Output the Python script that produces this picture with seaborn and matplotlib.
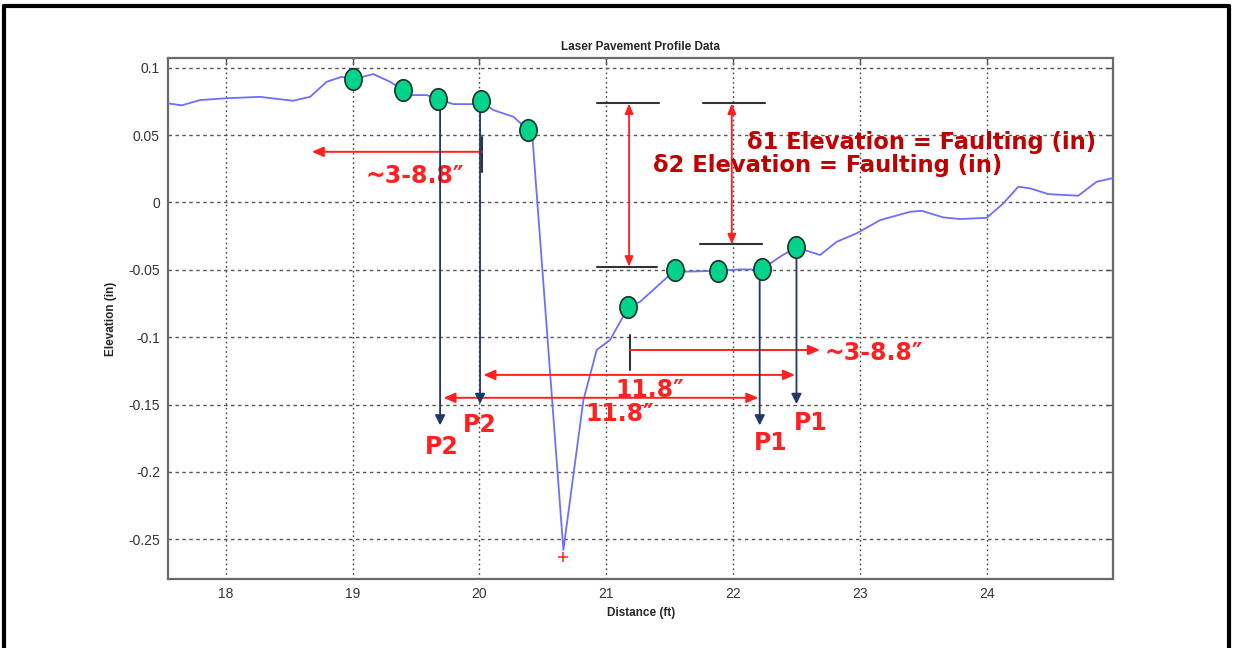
"""
Laser pavement profile with faulting measurement annotations.
"""

import matplotlib.pyplot as plt
import numpy as np
import pandas as pd
import seaborn as sns
from matplotlib.lines import Line2D
from matplotlib.markers import MarkerStyle
from matplotlib.path import Path
from matplotlib.transforms import Affine2D

# ----------------------------
# Profile data
# ----------------------------
distance_ft = [
    17.547, 17.653, 17.797, 17.994, 18.27, 18.53, 18.665, 18.796, 18.915,
    19.0, 19.164, 19.295, 19.40, 19.453, 19.585, 19.676, 19.795, 19.952,
    20.01, 20.11, 20.268, 20.386, 20.42, 20.662, 20.82, 20.925, 21.03,
    21.174, 21.267, 21.543, 21.608, 21.884, 22.055, 22.226, 22.37, 22.497,
    22.686, 22.817, 22.975, 23.159, 23.397, 23.488, 23.658, 23.79, 24.0,
    24.131, 24.249, 24.341, 24.486, 24.722, 24.867, 24.996,
]
elevation_in = [
    0.0735, 0.0721, 0.0760, 0.0773, 0.0784, 0.0755, 0.0784, 0.0896, 0.0933,
    0.0914, 0.0953, 0.0896, 0.0834, 0.0797, 0.0797, 0.0765, 0.0730, 0.0730,
    0.0755, 0.0686, 0.0636, 0.0537, 0.0463, -0.258, -0.1467, -0.1095, -0.102,
    -0.0779, -0.0737, -0.0502, -0.0514, -0.0507, -0.0497, -0.0497, -0.0403, -0.0333,
    -0.039, -0.0292, -0.0229, -0.0131, -0.0069, -0.0062, -0.0111, -0.0123, -0.0114,
    -0.0007, 0.0117, 0.0105, 0.0062, 0.0050, 0.0154, 0.0181,
]

# sensor readings (green dots)
sensor_x = [19.0, 19.40, 19.676, 20.01, 20.386, 21.174, 21.543, 21.884, 22.226, 22.497]
sensor_y = [0.0914, 0.0834, 0.0765, 0.0755, 0.0537, -0.0779, -0.0502, -0.0507, -0.0497, -0.0333]

# deepest point
min_x = [20.662]
min_y = [-0.263]

x_ticks = [18, 19, 20, 21, 22, 23, 24]
y_ticks = [0.1, 0.05, 0, -0.05, -0.1, -0.15, -0.2, -0.25]
y_tick_labels = ["0.1", "0.05", "0", "-0.05", "-0.1", "-0.15", "-0.2", "-0.25"]

# P1 / P2 drop lines
drop_x = [19.69, 20.005, 22.21, 22.50]
drop_top = [0.0765, 0.0755, -0.0497, -0.0333]
drop_bottom = [-0.1655, -0.1496, -0.1655, -0.1496]
p_labels = ["P2", "P2", "P1", "P1"]
p_label_x = [19.705, 20.005, 22.30, 22.615]
p_label_y = [-0.1815, -0.165, -0.1786, -0.164]

# faulting reference bars
bar_left = [20.93, 21.76, 20.93, 21.74]
bar_right = [21.42, 22.25, 21.40, 22.23]
bar_y = [0.0735, 0.0735, -0.0477, -0.0311]
delta_x = [21.18, 21.99]
delta_top = [0.0735, 0.0735]
delta_bottom = [-0.0477, -0.0311]

profile = pd.DataFrame({"Distance (ft)": distance_ft, "Elevation (in)": elevation_in})
sensors = pd.DataFrame({"x": sensor_x, "y": sensor_y})

sns.set_style("white")
plt.rcParams["font.family"] = ["Liberation Sans", "DejaVu Sans"]

fig = plt.figure(figsize=(12.33, 6.48), dpi=100)
ax = fig.add_axes([0.1365, 0.1065, 0.7664, 0.8035])

# ----------------------------
# Profile + sensors
# ----------------------------
sns.lineplot(
    data=profile, x="Distance (ft)", y="Elevation (in)",
    sort=False, estimator=None, color="#6e6eff", linewidth=1.3, ax=ax, zorder=3,
)
ellipse = Path.unit_circle().transformed(Affine2D().scale(0.8, 1.0))
sns.scatterplot(
    data=sensors, x="x", y="y", marker=MarkerStyle(ellipse), s=240,
    color="#00d48c", edgecolor="#1c3325", linewidth=1.2, ax=ax, zorder=5,
)
ax.plot(min_x, min_y, "+", color="#ff3030", markersize=7, mew=1.2, zorder=4)

# ----------------------------
# Axes styling (MATLAB look)
# ----------------------------
ax.set_xlim(17.547, 24.998)
ax.set_ylim(-0.2795, 0.107)
ax.set_xticks(x_ticks)
ax.set_xticklabels([str(t) for t in x_ticks])
ax.set_yticks(y_ticks)
ax.set_yticklabels(y_tick_labels)
ax.tick_params(direction="in", top=True, right=True, length=5, width=1,
               color="#555555", labelsize=10, labelcolor="#333333", pad=6)
ax.xaxis.grid(True, linestyle=(0, (1.2, 2.2)), color="#444444", linewidth=1.0)
ax.yaxis.grid(True, linestyle=(0, (2.5, 2.5)), color="#555555", linewidth=1.0)
ax.set_axisbelow(True)
for s in ax.spines.values():
    s.set_color("#6a6a6a")
    s.set_linewidth(1.6)

ax.set_title("Laser Pavement Profile Data", fontsize=8.5, fontweight="bold", pad=6)
ax.set_xlabel("Distance (ft)", fontsize=8.5, fontweight="bold", labelpad=4)
ax.set_ylabel("Elevation (in)", fontsize=8.5, fontweight="bold", labelpad=8)

# ----------------------------
# Annotations
# ----------------------------
navy = "#1f3864"
red = "#ff2020"
dark_red = "#c00000"
bold_font = ["DejaVu Sans"]

for x, y0, y1 in zip(drop_x, drop_top, drop_bottom):
    ax.annotate("", xy=(x, y1), xytext=(x, y0),
                arrowprops=dict(arrowstyle="-|>,head_length=0.6,head_width=0.3",
                                color=navy, lw=1.3, shrinkA=0, shrinkB=0),
                zorder=4)
for lbl, x, y in zip(p_labels, p_label_x, p_label_y):
    ax.text(x, y, lbl, color=red, fontsize=17, fontweight="bold",
            family=bold_font, ha="center", va="center")

for x0, x1, y in zip(bar_left, bar_right, bar_y):
    ax.plot([x0, x1], [y, y], color="#333333", lw=1.5, zorder=4)
for x, y0, y1 in zip(delta_x, delta_top, delta_bottom):
    ax.annotate("", xy=(x, y0), xytext=(x, y1),
                arrowprops=dict(arrowstyle="<|-|>,head_length=0.6,head_width=0.25",
                                color=red, lw=1.3, shrinkA=0, shrinkB=0))

# one-sided ~3-8.8" spans
ax.plot([20.018, 20.018], [0.0488, 0.0228], color="#333333", lw=1.5)
ax.annotate("", xy=(18.678, 0.0376), xytext=(20.018, 0.0376),
            arrowprops=dict(arrowstyle="-|>,head_length=0.7,head_width=0.3",
                            color=red, lw=1.4, shrinkA=0, shrinkB=0))
ax.plot([21.188, 21.188], [-0.0983, -0.1243], color="#333333", lw=1.5)
ax.annotate("", xy=(22.686, -0.1095), xytext=(21.188, -0.1095),
            arrowprops=dict(arrowstyle="-|>,head_length=0.7,head_width=0.3",
                            color=red, lw=1.4, shrinkA=0, shrinkB=0))

# 11.8" spans
ax.annotate("", xy=(20.031, -0.128), xytext=(22.489, -0.128),
            arrowprops=dict(arrowstyle="<|-|>,head_length=0.7,head_width=0.3",
                            color=red, lw=1.4, shrinkA=0, shrinkB=0))
ax.annotate("", xy=(19.716, -0.145), xytext=(22.2, -0.145),
            arrowprops=dict(arrowstyle="<|-|>,head_length=0.7,head_width=0.3",
                            color=red, lw=1.4, shrinkA=0, shrinkB=0))

ax.text(19.49, 0.0195, "~3-8.8\u2033", color=red, fontsize=17, fontweight="bold",
        family=bold_font, ha="center", va="center")
ax.text(22.72, -0.1118, "~3-8.8\u2033", color=red, fontsize=17, fontweight="bold",
        family=bold_font, ha="left", va="center")
ax.text(21.345, -0.139, "11.8\u2033", color=red, fontsize=17, fontweight="bold",
        family=bold_font, ha="center", va="center")
ax.text(21.108, -0.157, "11.8\u2033", color=red, fontsize=17, fontweight="bold",
        family=bold_font, ha="center", va="center")

ax.text(22.11, 0.0448, "\u03b41 Elevation = Faulting (in)", color=dark_red,
        fontsize=16.3, fontweight="bold", family=bold_font, ha="left", va="center")
ax.text(21.368, 0.0278, "\u03b42 Elevation = Faulting (in)", color=dark_red,
        fontsize=16.3, fontweight="bold", family=bold_font, ha="left", va="center")

# ----------------------------
# Outer frame
# ----------------------------
frame_kw = dict(color="black", lw=3, transform=fig.transFigure)
fig.add_artist(Line2D([0.0035, 0.997], [0.9907, 0.9907], **frame_kw))
fig.add_artist(Line2D([0.0035, 0.0035], [0.0, 0.9907], **frame_kw))
fig.add_artist(Line2D([0.997, 0.997], [0.0, 0.9907], **frame_kw))

fig.savefig("out.png", dpi=100)
